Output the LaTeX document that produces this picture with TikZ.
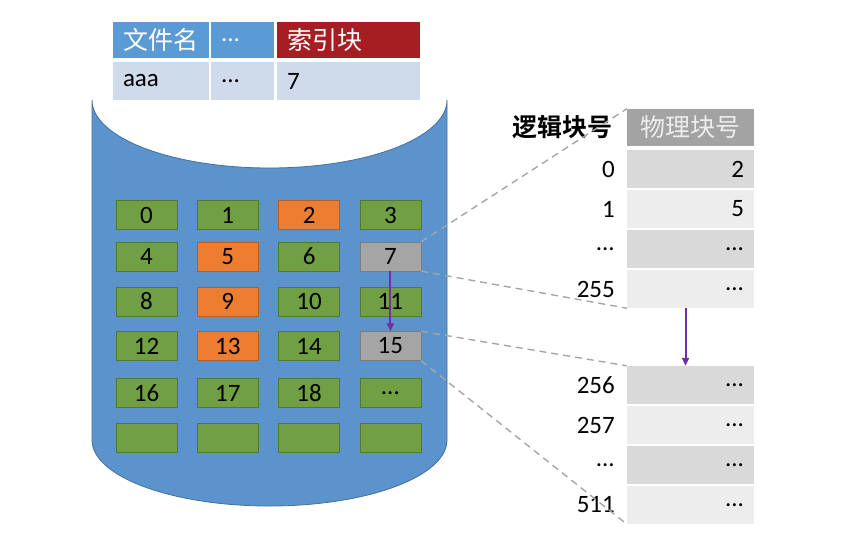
\documentclass[tikz,border=0pt]{standalone}
\usepackage{fontspec}
\setmainfont{Carlito}
\newfontfamily\cjk{Noto Sans CJK SC}[BoldFont={Noto Sans CJK SC Bold}]
\usetikzlibrary{arrows.meta}
\definecolor{hdrblue}{HTML}{5B9BD5}
\definecolor{hdrred}{HTML}{A61E22}
\definecolor{rowblue}{HTML}{CFDAEB}
\definecolor{cylblue}{HTML}{5B93CC}
\definecolor{cylline}{HTML}{41719C}
\definecolor{blkgreen}{HTML}{70A043}
\definecolor{blkorange}{HTML}{ED7D31}
\definecolor{blkgray}{HTML}{A5A5A5}
\definecolor{tabdark}{HTML}{A3A3A3}
\definecolor{rowdark}{HTML}{D9D9D9}
\definecolor{rowlight}{HTML}{EDEDED}
\definecolor{ptrpurple}{HTML}{7030A0}
\definecolor{dashgray}{HTML}{A6A6A6}
\newcommand\edots{...}
\begin{document}
\begin{tikzpicture}[x=1pt,y=-1pt,
    txt/.style={font=\fontsize{25}{28}\selectfont},
    fcell/.style={txt, inner xsep=10pt, inner ysep=0pt, align=left, minimum height=#1},
    blk/.style={txt, line width=0.4pt, minimum width=61pt, minimum height=29pt, inner sep=0pt},
    prow/.style={txt, inner xsep=10pt, inner ysep=0pt, text width=107pt, align=right, minimum height=38pt},
    plab/.style={txt, anchor=east, inner sep=0pt},
    ptr/.style={draw=ptrpurple, line width=2pt, -{Triangle[length=8pt,width=7pt]}},
    dline/.style={draw=dashgray, line width=1.4pt, dash pattern=on 7pt off 5pt}]
  \useasboundingbox (0,0) rectangle (848,541);
  % disk
  \draw[fill=cylblue, draw=cylline, line width=0.8pt] (92,100) -- (92,440)
    arc[start angle=180, end angle=0, x radius=177.5, y radius=66] -- (447,100)
    arc[start angle=0, end angle=180, x radius=177.5, y radius=68] -- cycle;
  % directory entry
  \node[fcell=36pt, fill=hdrblue, text=white, text width=76pt] (fname) at (161,40) {\cjk 文件名};
  \node[fcell=36pt, fill=hdrblue, text=white, text width=43pt] (fdots) at (242.5,40) {\edots};
  \node[fcell=36pt, fill=hdrred, text=white, text width=123pt] (findex) at (348.5,40) {\cjk 索引块};
  \node[fcell=38pt, fill=rowblue, text width=76pt] (vname) at (161,81) {aaa};
  \node[fcell=38pt, fill=rowblue, text width=43pt] (vdots) at (242.5,81) {\edots};
  \node[fcell=38pt, fill=rowblue, text width=123pt] (vindex) at (348.5,81) {7};
  % blocks
  \foreach \yy/\cells in {215/{0/0/blkgreen,1/1/blkgreen,2/2/blkorange,3/3/blkgreen},
      256.5/{4/4/blkgreen,5/5/blkorange,6/6/blkgreen,7/7/blkgray},
      301.5/{8/8/blkgreen,9/9/blkorange,10/10/blkgreen,11/11/blkgreen},
      346/{12/12/blkgreen,13/13/blkorange,14/14/blkgreen,15/15/blkgray},
      393/{16/16/blkgreen,17/17/blkgreen,18/18/blkgreen,19/\edots/blkgreen},
      438/{20//blkgreen,21//blkgreen,22//blkgreen,23//blkgreen}}
    \foreach \n/\t/\c [count=\cc from 0] in \cells
      \node[blk, fill=\c, draw=\c!75!black] (b\n) at (146.5+81.3*\cc,\yy) {\t};
  \draw[ptr] (b7.south) -- (b15.north);
  % index block
  \node[txt, fill=tabdark, text=rowlight, minimum width=127pt, minimum height=37pt, inner sep=0pt] (phdr) at (690.5,127.5) {\cjk 物理块号};
  \node[plab] (lhdr) at (613,127.5) {\cjk\bfseries 逻辑块号};
  \foreach \lab/\val/\c [count=\i from 0] in {0/2/rowdark,1/5/rowlight,\edots/\edots/rowdark,255/\edots/rowlight}{
    \node[prow, fill=\c] (p\i) at (690.5,169+40*\i) {\val};
    \node[plab] (q\i) at (615,169+40*\i) {\lab};
  }
  \foreach \lab/\c [count=\i from 0] in {256/rowdark,257/rowlight,\edots/rowdark,511/rowlight}{
    \node[prow, fill=\c] (s\i) at (690.5,385+40*\i) {\edots};
    \node[plab] (t\i) at (615,385+40*\i) {\lab};
  }
  \draw[ptr] ([xshift=-5pt]p3.south) -- ([xshift=-5pt]s0.north);
  % links
  \draw[dline] (b7.north east) -- (phdr.north west);
  \draw[dline] (b7.south east) -- (p3.south west);
  \draw[dline] (b15.north east) -- (s0.north west);
  \draw[dline] (b15.south east) -- (s3.south west);
\end{tikzpicture}
\end{document}
